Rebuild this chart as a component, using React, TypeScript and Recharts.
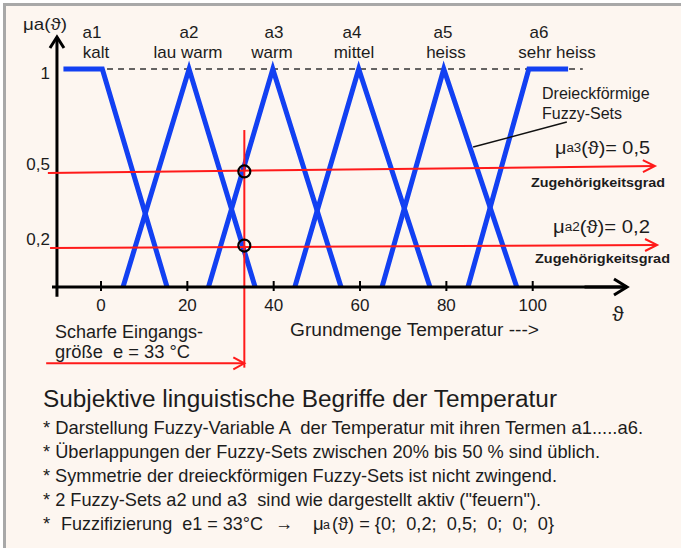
import { ComposedChart, Line, XAxis, YAxis, ReferenceLine, ReferenceDot } from "recharts";

const W = 681;
const H = 548;

// fuzzy sets a1..a6 (temperature -> membership)
const setNames = ["a1", "a2", "a3", "a4", "a5", "a6"];
const setTerms = ["kalt", "lau warm", "warm", "mittel", "heiss", "sehr heiss"];
const setA1 = [{ t: -8.7, mu: 1 }, { t: 0.3, mu: 1 }, { t: 15.3, mu: 0 }];
const setA2 = [{ t: 5.1, mu: 0 }, { t: 20.4, mu: 1 }, { t: 35.7, mu: 0 }];
const setA3 = [{ t: 24.9, mu: 0 }, { t: 39.8, mu: 1 }, { t: 55.6, mu: 0 }];
const setA4 = [{ t: 44.9, mu: 0 }, { t: 59.7, mu: 1 }, { t: 76.2, mu: 0 }];
const setA5 = [{ t: 65.1, mu: 0 }, { t: 79.4, mu: 1 }, { t: 96.3, mu: 0 }];
const setA6 = [{ t: 85.0, mu: 0 }, { t: 99.1, mu: 1 }, { t: 108.2, mu: 1 }];
const sets = [setA1, setA2, setA3, setA4, setA5, setA6];

const xTicks = [0, 20, 40, 60, 80, 100];
const yTicks = [0.2, 0.5, 1];
const yTickText: Record<string, string> = { "0.2": "0,2", "0.5": "0,5", "1": "1" };

// crisp input e = 33 and the two memberships it hits
const inputTemp = 33.2;
const hitA3 = 0.53;
const hitA2 = 0.19;

// red membership arrows, input arrows, helper lines
const mu05Arrow = [{ x: -12.3, y: 0.523 }, { x: 128.3, y: 0.555 }];
const mu02Arrow = [{ x: -11.8, y: 0.179 }, { x: 128.8, y: 0.193 }];
const inputDrop = [{ x: inputTemp, y: 0.72 }, { x: inputTemp, y: -0.37 }];
const inputArrow = [{ x: -12.7, y: -0.35 }, { x: inputTemp, y: -0.35 }];
const onePlateau = [{ x: 1.4, y: 1 }, { x: 111.6, y: 1 }];
const pointer = [{ x: 86.2, y: 0.642 }, { x: 107.9, y: 0.757 }];
const yAxisArrow = [{ x: -10.2, y: -0.045 }, { x: -10.2, y: 1.147 }];
const xAxisArrow = [{ x: 112, y: 0 }, { x: 121.84, y: 0 }];

const bullets = [
  "* Darstellung Fuzzy-Variable A  der Temperatur mit ihren Termen a1.....a6.",
  "* Überlappungen der Fuzzy-Sets zwischen 20% bis 50 % sind üblich.",
  "* Symmetrie der dreieckförmigen Fuzzy-Sets ist nicht zwingend.",
  "* 2 Fuzzy-Sets a2 und a3  sind wie dargestellt aktiv (\"feuern\").",
];
const bulletWidths = [600, 557, 514, 498];

const FONT = "'Liberation Sans', Arial, sans-serif";
const NARROW = "'Liberation Sans Narrow', 'Liberation Sans', Arial, sans-serif";
const BLUE = "#1240f2";
const RED = "#ff1a1a";
const INK = "#1c1c1c";

function arrowShape(color: string, width: number, len: number, half: number) {
  return (p: any) => {
    const { x1, y1, x2, y2 } = p;
    const a = Math.atan2(y2 - y1, x2 - x1);
    const c = Math.cos(a);
    const s = Math.sin(a);
    const bx = x2 - len * c;
    const by = y2 - len * s;
    const pts = `${bx - half * s},${by + half * c} ${x2},${y2} ${bx + half * s},${by - half * c}`;
    return (
      <g>
        <line x1={x1} y1={y1} x2={x2} y2={y2} stroke={color} strokeWidth={width} />
        <polyline points={pts} fill="none" stroke={color} strokeWidth={width} />
      </g>
    );
  };
}

function XTick({ x, y, payload }: any) {
  return (
    <g>
      <line x1={x} x2={x} y1={y - 8} y2={y + 2} stroke="#000" strokeWidth={2} />
      <text x={x} y={y + 16} textAnchor="middle" dominantBaseline="central"
        fontSize={17} fontFamily={FONT} fill={INK}>
        {payload.value}
      </text>
    </g>
  );
}

const yNudge: Record<string, number> = { "0.2": -4, "0.5": -14, "1": 4 };

function YTick({ x, y, payload }: any) {
  const k = String(payload.value);
  return (
    <text x={x} y={y + (yNudge[k] ?? 0)} textAnchor="end" dominantBaseline="central"
      fontSize={17} fontFamily={FONT} fill={INK}>
      {yTickText[k]}
    </text>
  );
}

const nameX = [92, 189, 274, 352, 443, 539];
const termX = [96, 188, 272, 354, 446, 557];

export default function App() {
  return (
    <div style={{ position: "absolute", left: 0, top: 0, width: W, height: H, background: "#fff" }}>
      <div style={{
        position: "absolute", left: 3, top: 3, right: 0, bottom: 0,
        background: "#fdf6f0", borderTop: "3px solid #a8a8a8", borderLeft: "3px solid #a8a8a8",
      }} />
      <div style={{ position: "absolute", left: 0, top: 0 }}>
        <ComposedChart width={W} height={H} margin={{ top: 25.4, right: 54, bottom: 231, left: 12 }}>
          <XAxis dataKey="t" type="number" domain={[-11.35, 121.84]} allowDataOverflow
            ticks={xTicks} interval={0} height={30} tickSize={0} tickMargin={2}
            axisLine={{ stroke: "#000", strokeWidth: 3 }} tickLine={false} tick={<XTick />} />
          <YAxis type="number" domain={[0, 1.2]} allowDataOverflow ticks={yTicks} interval={0}
            width={40} tickSize={0} tickMargin={2} axisLine={false} tickLine={false} tick={<YTick />} />

          <ReferenceLine segment={onePlateau} ifOverflow="visible" stroke="#333" strokeWidth={1.5} strokeDasharray="6 5" />

          {sets.map((s, i) => (
            <Line key={setNames[i]} data={s} dataKey="mu" type="linear" stroke={BLUE} strokeWidth={5}
              dot={false} activeDot={false} isAnimationActive={false} />
          ))}

          <ReferenceLine segment={yAxisArrow} ifOverflow="visible" shape={arrowShape("#000", 3, 11, 7)} />
          <ReferenceLine segment={xAxisArrow} ifOverflow="visible" shape={arrowShape("#000", 3, 13, 8)} />

          <ReferenceLine segment={mu05Arrow} ifOverflow="visible" shape={arrowShape(RED, 2, 12, 6)} />
          <ReferenceLine segment={mu02Arrow} ifOverflow="visible" shape={arrowShape(RED, 2, 12, 6)} />
          <ReferenceLine segment={inputDrop} ifOverflow="visible" stroke={RED} strokeWidth={2} />
          <ReferenceLine segment={inputArrow} ifOverflow="visible" shape={arrowShape(RED, 2, 11, 6)} />
          <ReferenceLine segment={pointer} ifOverflow="visible" stroke="#111" strokeWidth={1.5} />

          <ReferenceDot x={inputTemp} y={hitA3} r={6} ifOverflow="visible" fill="none" stroke="#000" strokeWidth={2.2} />
          <ReferenceDot x={inputTemp} y={hitA2} r={6} ifOverflow="visible" fill="none" stroke="#000" strokeWidth={2.2} />
        </ComposedChart>
      </div>

      <svg width={W} height={H} style={{ position: "absolute", left: 0, top: 0, pointerEvents: "none" }}
        fontFamily={FONT} fill={INK}>
        <text x={23} y={24} fontSize={17} dominantBaseline="central" textLength={44} lengthAdjust="spacingAndGlyphs">μa(ϑ)</text>

        {setNames.map((n, i) => (
          <text key={n} x={nameX[i]} y={32} fontSize={17} textAnchor="middle" dominantBaseline="central">{n}</text>
        ))}
        {setTerms.map((n, i) => (
          <text key={n} x={termX[i]} y={52} fontSize={17} textAnchor="middle" dominantBaseline="central">{n}</text>
        ))}

        <text x={542} y={93} fontSize={16} dominantBaseline="central">Dreieckförmige</text>
        <text x={542} y={113} fontSize={16} dominantBaseline="central">Fuzzy-Sets</text>

        <text x={555} y={148} dominantBaseline="central" textLength={95} lengthAdjust="spacingAndGlyphs">
          <tspan fontSize={18}>μ</tspan><tspan fontSize={12}>a3</tspan><tspan fontSize={18}>(ϑ)= 0,5</tspan>
        </text>
        <text x={531} y={182} fontSize={13.5} fontWeight={600} dominantBaseline="central" textLength={134} lengthAdjust="spacingAndGlyphs">Zugehörigkeitsgrad</text>
        <text x={553} y={227} dominantBaseline="central" textLength={97} lengthAdjust="spacingAndGlyphs">
          <tspan fontSize={18}>μ</tspan><tspan fontSize={12}>a2</tspan><tspan fontSize={18}>(ϑ)= 0,2</tspan>
        </text>
        <text x={535} y={258} fontSize={13.5} fontWeight={600} dominantBaseline="central" textLength={135} lengthAdjust="spacingAndGlyphs">Zugehörigkeitsgrad</text>

        <text x={618} y={313} fontSize={21} textAnchor="middle" dominantBaseline="central">ϑ</text>
        <text x={290} y={330} fontSize={18} dominantBaseline="central" textLength={249} lengthAdjust="spacingAndGlyphs">Grundmenge Temperatur ---&gt;</text>
        <text x={55} y={332} fontSize={18} dominantBaseline="central" textLength={148} lengthAdjust="spacingAndGlyphs">Scharfe Eingangs-</text>
        <text x={55} y={352} fontSize={18} dominantBaseline="central" textLength={135} lengthAdjust="spacingAndGlyphs" style={{ whiteSpace: "pre" }}>größe  e = 33 °C</text>

        <text x={43} y={399} fontSize={23} dominantBaseline="central" textLength={514} lengthAdjust="spacingAndGlyphs">Subjektive linguistische Begriffe der Temperatur</text>
        {bullets.map((b, i) => (
          <text key={i} x={43} y={427 + i * 24} fontSize={18.5} fontFamily={NARROW} dominantBaseline="central"
            textLength={bulletWidths[i]} lengthAdjust="spacingAndGlyphs" style={{ whiteSpace: "pre" }}>{b}</text>
        ))}
        <g fontFamily={NARROW} fontSize={18.5}>
          <text x={43} y={523} dominantBaseline="central">*</text>
          <text x={61} y={523} dominantBaseline="central" textLength={202} lengthAdjust="spacingAndGlyphs" style={{ whiteSpace: "pre" }}>Fuzzifizierung  e1 = 33°C</text>
          <text x={275} y={523} dominantBaseline="central" textLength={18} lengthAdjust="spacingAndGlyphs">→</text>
          <text x={313} y={523} dominantBaseline="central">μ</text>
          <text x={323} y={525} fontSize={12.5} dominantBaseline="central">a</text>
          <text x={332} y={523} dominantBaseline="central" textLength={222} lengthAdjust="spacingAndGlyphs" style={{ whiteSpace: "pre" }}>(ϑ) = {"{0;  0,2;  0,5;  0;  0;  0}"}</text>
        </g>
      </svg>
    </div>
  );
}
